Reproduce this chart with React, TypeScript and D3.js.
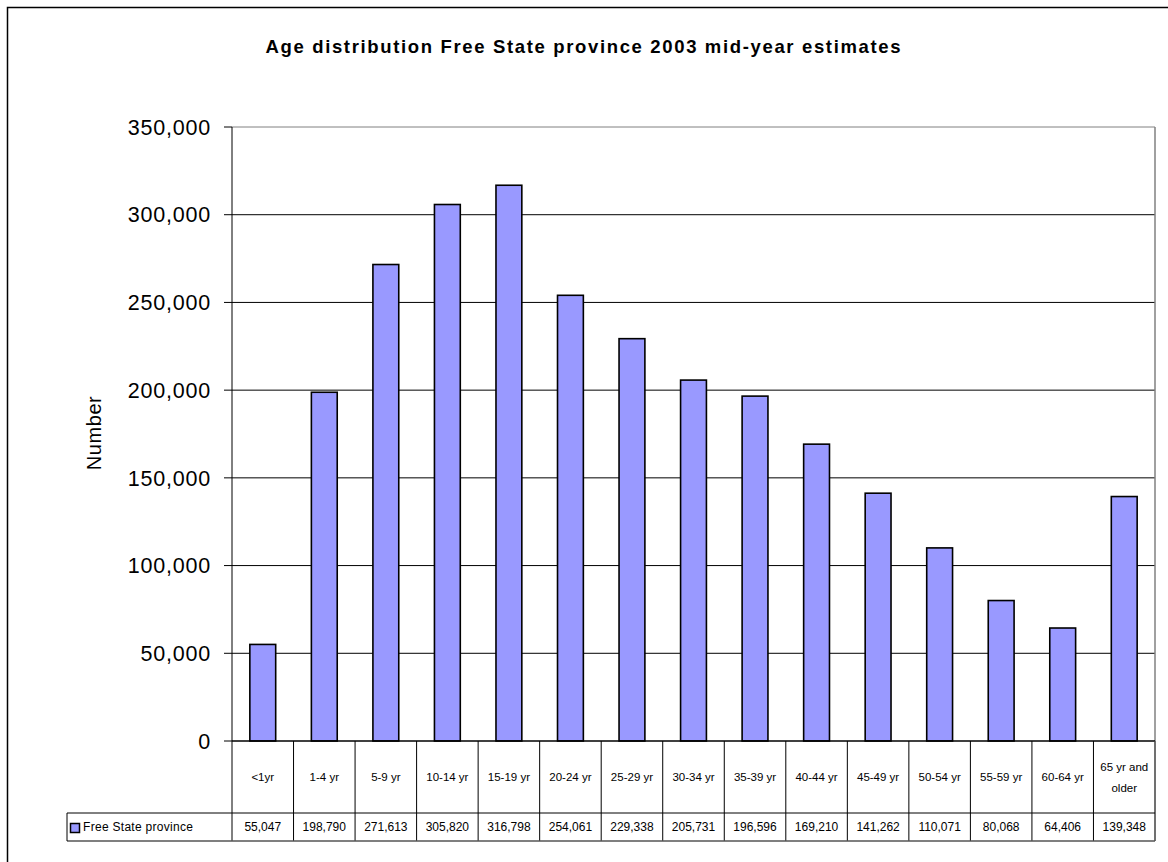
import React from "react";
import * as d3 from "d3";

const categories = [
  "<1yr", "1-4 yr", "5-9 yr", "10-14 yr", "15-19 yr", "20-24 yr", "25-29 yr",
  "30-34 yr", "35-39 yr", "40-44 yr", "45-49 yr", "50-54 yr", "55-59 yr",
  "60-64 yr", "65 yr and older",
];
const values = [
  55047, 198790, 271613, 305820, 316798, 254061, 229338, 205731, 196596,
  169210, 141262, 110071, 80068, 64406, 139348,
];
const yTicks = [0, 50000, 100000, 150000, 200000, 250000, 300000, 350000];
const seriesName = "Free State province";
const title = "Age distribution Free State province 2003 mid-year estimates";

const W = 1168;
const H = 862;
const left = 232;
const right = 1155;
const top = 127;
const bottom = 741;
const catRowBottom = 813;
const valRowBottom = 841;
const legendLeft = 67;
const barFill = "#9999FF";
const font = "Arial, 'Liberation Sans', sans-serif";

export default function App() {
  const x = d3
    .scaleBand<string>()
    .domain(categories)
    .range([left, right])
    .paddingInner(0.58)
    .paddingOuter(0.29);
  const y = d3.scaleLinear().domain([0, 350000]).range([bottom, top]);
  const step = x.step();
  const fmt = d3.format(",");

  const cellLeft = (i: number) => left + i * step;

  return (
    <svg
      width={W}
      height={H}
      style={{ position: "absolute", left: 0, top: 0, background: "#fff" }}
    >
      {/* outer chart frame */}
      <rect x={7.5} y={7.5} width={W + 20} height={H + 20} fill="none" stroke="#000" strokeWidth={1.5} />

      <text
        x={583}
        y={53}
        textAnchor="middle"
        fontFamily={font}
        fontWeight="bold"
        fontSize={18.5}
        textLength={635}
        lengthAdjust="spacing"
      >
        {title}
      </text>

      {/* gridlines */}
      {yTicks.filter((t) => t > 0).map((t) => (
        <line
          key={t}
          x1={left}
          x2={right}
          y1={y(t)}
          y2={y(t)}
          stroke={t === 350000 ? "#808080" : "#000"}
          strokeWidth={1}
        />
      ))}
      {/* plot area right border */}
      <line x1={right} x2={right} y1={top} y2={bottom} stroke="#808080" strokeWidth={1.5} />

      {/* bars */}
      {values.map((v, i) => (
        <rect
          key={categories[i]}
          x={x(categories[i])}
          y={y(v)}
          width={x.bandwidth()}
          height={bottom - y(v)}
          fill={barFill}
          stroke="#000"
          strokeWidth={1.6}
        />
      ))}

      {/* y axis */}
      <line x1={left} x2={left} y1={top} y2={bottom} stroke="#000" strokeWidth={1} />
      {yTicks.map((t) => (
        <g key={t}>
          <line x1={left - 8} x2={left} y1={y(t)} y2={y(t)} stroke="#000" />
          <text
            x={211}
            y={y(t)}
            dy="0.36em"
            textAnchor="end"
            fontFamily={font}
            fontSize={21.5}
            letterSpacing={0.8}
          >
            {fmt(t)}
          </text>
        </g>
      ))}
      <text
        transform={`translate(101,433) rotate(-90)`}
        textAnchor="middle"
        fontFamily={font}
        fontSize={20}
        letterSpacing={0.6}
      >
        Number
      </text>

      {/* data table */}
      <line x1={left} x2={right} y1={bottom} y2={bottom} stroke="#000" strokeWidth={1.5} />
      {categories.map((c, i) => (
        <line
          key={"v" + i}
          x1={cellLeft(i)}
          x2={cellLeft(i)}
          y1={bottom}
          y2={valRowBottom}
          stroke="#000"
        />
      ))}
      <line x1={right} x2={right} y1={bottom} y2={valRowBottom} stroke="#404040" strokeWidth={1.5} />
      <line x1={legendLeft} x2={right} y1={catRowBottom} y2={catRowBottom} stroke="#000" />
      <line x1={legendLeft} x2={right} y1={valRowBottom} y2={valRowBottom} stroke="#555" strokeWidth={1.5} />
      <line x1={legendLeft} x2={legendLeft} y1={catRowBottom} y2={valRowBottom} stroke="#000" />

      {categories.map((c, i) => {
        const cx = cellLeft(i) + step / 2;
        const words = c === "65 yr and older" ? ["65 yr and", "older"] : [c];
        const cy = (bottom + catRowBottom) / 2;
        return (
          <text
            key={"c" + i}
            x={cx}
            y={cy - ((words.length - 1) * 21) / 2}
            textAnchor="middle"
            fontFamily={font}
            fontSize={11.5}
          >
            {words.map((w, j) => (
              <tspan key={j} x={cx} dy={j === 0 ? "0.35em" : 21}>
                {w}
              </tspan>
            ))}
          </text>
        );
      })}
      {values.map((v, i) => (
        <text
          key={"n" + i}
          x={cellLeft(i) + step / 2}
          y={(catRowBottom + valRowBottom) / 2}
          dy="0.36em"
          textAnchor="middle"
          fontFamily={font}
          fontSize={12}
        >
          {fmt(v)}
        </text>
      ))}
      <rect x={70.5} y={823.5} width={9} height={9} fill={barFill} stroke="#000" strokeWidth={1.5} />
      <text
        x={83}
        y={(catRowBottom + valRowBottom) / 2}
        dy="0.36em"
        fontFamily={font}
        fontSize={12}
        textLength={110}
        lengthAdjust="spacing"
      >
        {seriesName}
      </text>
    </svg>
  );
}
